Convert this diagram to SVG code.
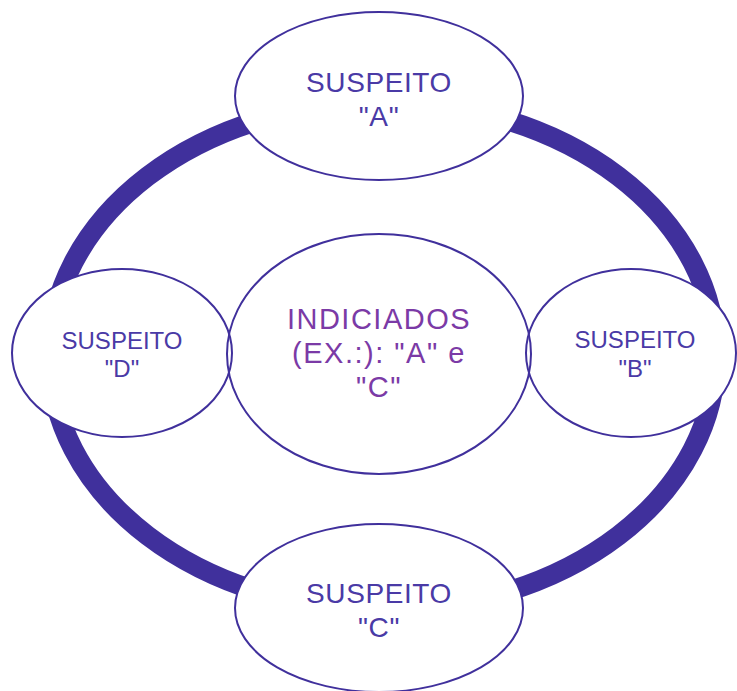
<svg xmlns="http://www.w3.org/2000/svg" width="737" height="691" viewBox="0 0 737 691">
  <style>
    .node { fill: #ffffff; stroke: #40309c; stroke-width: 2; }
    .hub { fill: none; stroke: #40309c; stroke-width: 2; }
    .ring { fill: none; stroke: #40309c; stroke-width: 20; }
    text { font-family: "Liberation Sans", Arial, sans-serif; text-anchor: middle; }
    .big { font-size: 28px; letter-spacing: 0.6px; fill: #4a3aa6; }
    .small { font-size: 24px; fill: #4a3aa6; }
    .center { font-size: 29px; letter-spacing: 1.5px; fill: #7b3aa6; }
  </style>
  <rect width="737" height="691" fill="#ffffff"/>
  <g id="connectors">
    <ellipse class="ring" cx="383" cy="356" rx="333" ry="254"/>
  </g>
  <g id="suspeito-a">
    <ellipse class="node" cx="379" cy="96" rx="144" ry="84"/>
    <text class="big" x="379" y="92">SUSPEITO</text>
    <text class="big" x="379" y="126">&quot;A&quot;</text>
  </g>
  <g id="suspeito-d">
    <ellipse class="node" cx="122" cy="353" rx="110" ry="84"/>
    <text class="small" x="122" y="349">SUSPEITO</text>
    <text class="small" x="122" y="377">&quot;D&quot;</text>
  </g>
  <g id="suspeito-b">
    <ellipse class="node" cx="631" cy="353" rx="105" ry="84"/>
    <text class="small" x="635" y="348">SUSPEITO</text>
    <text class="small" x="635" y="377">&quot;B&quot;</text>
  </g>
  <g id="suspeito-c">
    <ellipse class="node" cx="379" cy="608" rx="144" ry="84"/>
    <text class="big" x="379" y="603">SUSPEITO</text>
    <text class="big" x="379" y="637">&quot;C&quot;</text>
  </g>
  <g id="indiciados">
    <ellipse class="hub" cx="379" cy="354" rx="152" ry="120"/>
    <text class="center" x="379" y="329">INDICIADOS</text>
    <text class="center" x="379" y="363">(EX.:): &quot;A&quot; e</text>
    <text class="center" x="379" y="397">&quot;C&quot;</text>
  </g>
</svg>
